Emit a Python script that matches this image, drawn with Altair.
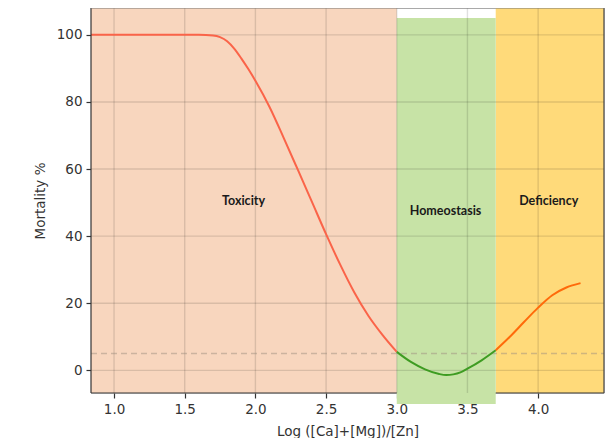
import altair as alt
import pandas as pd

# ---- data ----
tox_x = [0.837, 1.0, 1.2, 1.4, 1.6, 1.7, 1.75, 1.8, 1.85, 1.9, 1.95, 2.0, 2.1, 2.2, 2.3, 2.4, 2.5, 2.6, 2.7, 2.8, 2.9, 3.0]
tox_y = [100, 100, 100, 100, 100, 99.8, 99.3, 98.1, 95.9, 93.0, 89.8, 86.3, 78.5, 69.3, 59.8, 50.2, 40.6, 31.5, 23.2, 16.2, 10.5, 5.5]
hom_x = [3.0, 3.1, 3.2, 3.3, 3.35, 3.4, 3.45, 3.5, 3.6, 3.7]
hom_y = [5.5, 2.5, 0.3, -1.1, -1.4, -1.2, -0.6, 0.5, 3.0, 6.0]
def_x = [3.7, 3.8, 3.9, 4.0, 4.1, 4.2, 4.3]
def_y = [6.0, 10.0, 14.4, 18.7, 22.4, 24.7, 26.0]

region_names = ["Toxicity", "Homeostasis", "Deficiency"]
region_x0 = [0.837, 3.0, 3.7]
region_x1 = [3.0, 3.7, 4.466]
region_y0 = [-6.75, -10, -6.75]
region_y1 = [108.0, 105, 108.0]
region_colors = ["#f8d6be", "#c7e3a6", "#ffda7a"]

label_text = ["Toxicity", "Homeostasis", "Deficiency"]
label_x = [1.916, 3.345, 4.075]
label_y = [50.4, 47.4, 50.4]

x_ticks = [1.0, 1.5, 2.0, 2.5, 3.0, 3.5, 4.0]
y_ticks = [0, 20, 40, 60, 80, 100]
threshold = 5

XMIN, XMAX = 0.837, 4.466
YMIN, YMAX = -6.75, 108.0

xs = alt.Scale(domain=[XMIN, XMAX], nice=False, zero=False)
ys = alt.Scale(domain=[YMIN, YMAX], nice=False, zero=False)

regions = pd.DataFrame({"name": region_names, "x0": region_x0, "x1": region_x1,
                        "y0": region_y0, "y1": region_y1})
curve = pd.DataFrame({
    "x": tox_x + hom_x + def_x,
    "y": tox_y + hom_y + def_y,
    "seg": ["Toxicity"] * len(tox_x) + ["Homeostasis"] * len(hom_x) + ["Deficiency"] * len(def_x),
})
labels = pd.DataFrame({"t": label_text, "x": label_x, "y": label_y})

xaxis = alt.Axis(values=x_ticks, format=".1f", grid=False, domain=False, tickColor="#333",
                 tickSize=5, tickWidth=1.2, labelPadding=4, labelFontSize=13.5, labelColor="#333",
                 labelFont="DejaVu Sans", title="Log ([Ca]+[Mg])/[Zn]", titleFont="DejaVu Sans",
                 titleFontSize=13.5, titleFontWeight="normal", titleColor="#333", titlePadding=9)
yaxis = alt.Axis(values=y_ticks, grid=False, domain=False, tickColor="#333",
                 tickSize=5, tickWidth=1.2, labelPadding=4, labelFontSize=13.5, labelColor="#333",
                 labelFont="DejaVu Sans", title="Mortality %", titleFont="DejaVu Sans",
                 titleFontSize=13.5, titleFontWeight="normal", titleColor="#333", titlePadding=9)

color_scale = alt.Scale(domain=region_names, range=region_colors)

bg = alt.Chart(regions).transform_filter(alt.datum.name != "Homeostasis").mark_rect().encode(
    x=alt.X("x0:Q", scale=xs, axis=xaxis), x2="x1:Q",
    y=alt.Y("y0:Q", scale=ys, axis=yaxis), y2="y1:Q",
    color=alt.Color("name:N", scale=color_scale, legend=None),
)

spine_df = pd.DataFrame({"a": [0]})
bottom_spine = alt.Chart(spine_df).mark_rule(color="#333", strokeWidth=1.2).encode(
    x=alt.datum(XMIN, scale=xs), x2=alt.datum(XMAX), y=alt.datum(YMIN, scale=ys))

green = alt.Chart(regions).transform_filter(alt.datum.name == "Homeostasis").mark_rect().encode(
    x=alt.X("x0:Q", scale=xs), x2="x1:Q",
    y=alt.Y("y0:Q", scale=ys), y2="y1:Q",
    color=alt.Color("name:N", scale=color_scale, legend=None),
)

vgrid = alt.Chart(pd.DataFrame({"v": x_ticks})).mark_rule(color="#000", opacity=0.12, strokeWidth=1.4).encode(
    x=alt.X("v:Q", scale=xs))
hgrid = alt.Chart(pd.DataFrame({"v": y_ticks})).mark_rule(color="#000", opacity=0.12, strokeWidth=1.4).encode(
    y=alt.Y("v:Q", scale=ys))

dash = alt.Chart(pd.DataFrame({"v": [threshold]})).mark_rule(
    color="#a09080", opacity=0.5, strokeWidth=1.5, strokeDash=[6, 4]).encode(
    y=alt.Y("v:Q", scale=ys), x=alt.datum(XMIN, scale=xs), x2=alt.datum(XMAX))

line = alt.Chart(curve).mark_line(interpolate="monotone", strokeWidth=2).encode(
    x=alt.X("x:Q", scale=xs), y=alt.Y("y:Q", scale=ys), detail="seg:N",
    stroke=alt.Stroke("seg:N", scale=alt.Scale(domain=region_names, range=["#fa6449", "#3e9c22", "#ff6a0a"]),
                      legend=None),
)

text = alt.Chart(labels).mark_text(font="Lato", fontWeight="bold", fontSize=12.5, color="#1a1a1a").encode(
    x=alt.X("x:Q", scale=xs), y=alt.Y("y:Q", scale=ys), text="t:N")

left_spine = alt.Chart(spine_df).mark_rule(color="#333", strokeWidth=1.2).encode(
    x=alt.datum(XMIN, scale=xs), y=alt.datum(YMIN, scale=ys), y2=alt.datum(YMAX))
right_spine = alt.Chart(spine_df).mark_rule(color="#444", strokeWidth=1.2).encode(
    x=alt.datum(XMAX, scale=xs), y=alt.datum(YMIN, scale=ys), y2=alt.datum(YMAX))
top_spine = alt.Chart(spine_df).mark_rule(color="#777", strokeWidth=1.2).encode(
    x=alt.datum(XMIN, scale=xs), x2=alt.datum(XMAX), y=alt.datum(YMAX, scale=ys))

chart = alt.layer(bg, bottom_spine, green, vgrid, hgrid, dash, line, text,
                  left_spine, right_spine, top_spine).resolve_scale(color="independent").properties(
    width=513, height=385,
    autosize=alt.AutoSizeParams(type="none"),
    padding={"left": 83, "top": 0, "right": 1, "bottom": 45},
).configure_view(stroke=None).configure(background="white")

chart.save("out.html", embed_options={"renderer": "svg", "actions": False})
